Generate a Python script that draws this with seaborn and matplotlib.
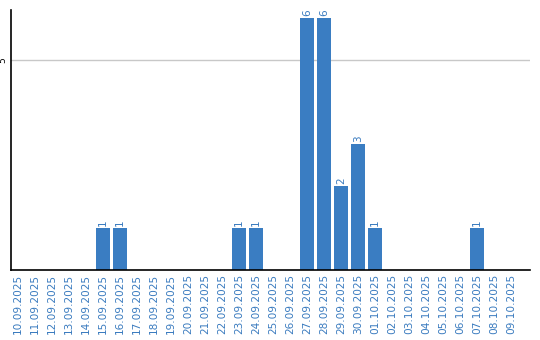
import matplotlib
matplotlib.use("Agg")
import matplotlib.pyplot as plt
import seaborn as sns
import pandas as pd

dates = ["10.09.2025", "11.09.2025", "12.09.2025", "13.09.2025", "14.09.2025",
         "15.09.2025", "16.09.2025", "17.09.2025", "18.09.2025", "19.09.2025",
         "20.09.2025", "21.09.2025", "22.09.2025", "23.09.2025", "24.09.2025",
         "25.09.2025", "26.09.2025", "27.09.2025", "28.09.2025", "29.09.2025",
         "30.09.2025", "01.10.2025", "02.10.2025", "03.10.2025", "04.10.2025",
         "05.10.2025", "06.10.2025", "07.10.2025", "08.10.2025", "09.10.2025"]
counts = [0, 0, 0, 0, 0, 1, 1, 0, 0, 0, 0, 0, 0, 1, 1, 0, 0, 6, 6, 2, 3, 1,
          0, 0, 0, 0, 0, 1, 0, 0]

sns.set_theme(style="white")
plt.rcParams['font.family'] = ['DejaVu Sans']

blue = "#3a7dc2"
txt = "#3a7bbf"

df = pd.DataFrame({"date": dates, "count": counts})
fig = plt.figure(figsize=(5.4, 3.4), dpi=100)
ax = fig.add_axes([10.5/540, 70/340, 519.5/540, 260/340])
sns.barplot(data=df, x="date", y="count", color=blue, width=0.82,
            saturation=1, ax=ax, edgecolor="none")
ax.set_xlim(-0.44, 30.12)
ax.set_ylim(0, 6.19)
ax.set_yticks([5])
ax.yaxis.grid(True, color="#c8c8c8", linewidth=1)
ax.set_axisbelow(True)
ax.set_xlabel("")
ax.set_ylabel("")
for s in ["top", "right"]:
    ax.spines[s].set_visible(False)
for s in ["left", "bottom"]:
    ax.spines[s].set_color("black")
    ax.spines[s].set_linewidth(1.2)
ax.tick_params(axis="x", length=0, pad=3, labelsize=7.6, labelcolor=txt, rotation=90)
ax.tick_params(axis="y", length=0, pad=2, labelsize=6.5, labelcolor="black")
for lbl in ax.get_yticklabels():
    lbl.set_rotation(90)
    lbl.set_va("center")
for i, v in enumerate(counts):
    if v > 0:
        ax.text(i, v + 0.05, str(v), rotation=90, ha="center", va="bottom",
                fontsize=7.5, color=txt)
fig.savefig("out.png", dpi=100)
